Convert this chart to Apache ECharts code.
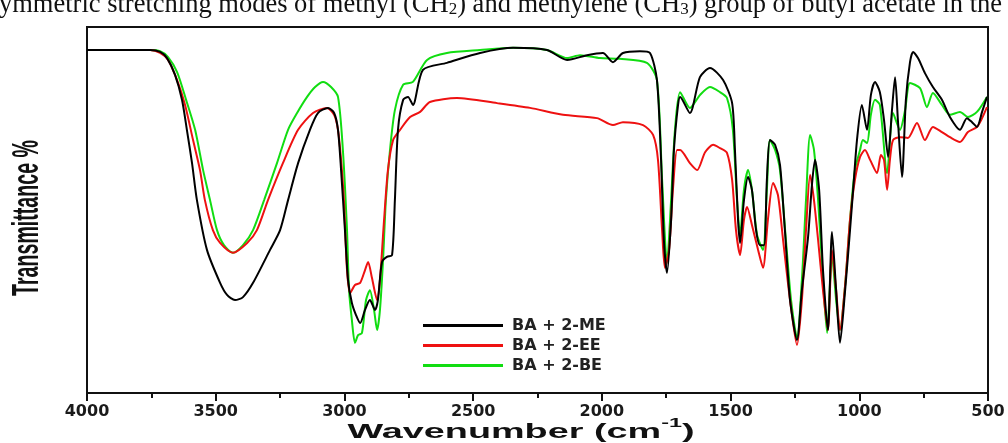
<!DOCTYPE html>
<html>
<head>
<meta charset="utf-8">
<script src="https://cdn.jsdelivr.net/npm/echarts@6/dist/echarts.min.js"></script>
<style>html,body{margin:0;padding:0;background:#fff;}#chart{width:1008px;height:443px;}</style>
</head>
<body>
<div id="chart"></div>
<script>
// Wavenumber (cm^-1) and transmittance (%)
const meWn = [4000,3755,3716,3689,3658,3631,3612,3592,3573,3534,3483,3456,3425,3394,3355,3289,3250,3219,3180,3134,3103,3064,3040,3025,3013,2998,2986,2971,2955,2939,2920,2901,2881,2870,2854,2835,2815,2804,2792,2772,2753,2734,2695,2602,2473,2345,2213,2135,2058,1996,1957,1918,1852,1813,1786,1770,1759,1747,1731,1720,1704,1696,1658,1619,1580,1529,1494,1483,1471,1463,1448,1432,1417,1401,1386,1370,1359,1347,1327,1308,1289,1269,1242,1223,1199,1184,1172,1156,1141,1122,1106,1090,1075,1055,1036,1021,1009,990,970,955,939,920,904,888,873,861,850,834,819,803,791,772,745,714,679,648,609,582,562,543,523,504];
const meT  = [93.7,93.7,93.2,91.5,86.9,80.1,71.9,62.8,52.7,39.1,30.1,26.8,25.4,26.2,30.1,39.1,44.5,52.7,62.8,71.9,76.5,77.9,76.5,71.9,60.9,44.5,30.9,24.6,21.3,19.1,22.7,25.4,22.7,25.4,35.8,37.2,37.7,52.7,71.9,80.1,80.9,78.7,88.3,90.2,92.9,94.3,93.7,91.0,92.3,92.9,90.4,92.9,93.4,92.9,85.5,63.7,41.8,32.8,47.3,66.4,78.7,80.9,76.5,86.3,88.8,85.5,79.2,66.4,47.3,41.0,52.7,59.0,55.5,44.5,40.4,40.4,58.2,69.1,67.8,62.3,44.5,25.4,14.5,28.1,42.6,56.8,63.7,55.5,33.6,17.2,44.0,28.1,13.7,28.1,44.5,58.2,69.1,78.7,71.9,81.4,85.0,82.2,74.6,64.5,77.3,86.3,74.6,59.0,80.1,90.4,93.2,91.5,87.4,83.6,80.1,75.4,71.9,75.1,74.0,72.7,76.8,80.9];

const eeWn = [4000,3755,3716,3685,3650,3619,3588,3561,3542,3511,3483,3433,3378,3340,3297,3239,3180,3122,3068,3040,3025,3013,3002,2990,2978,2959,2939,2920,2908,2893,2873,2862,2846,2831,2811,2784,2745,2706,2668,2563,2407,2279,2151,2019,1957,1918,1840,1801,1782,1766,1755,1739,1724,1708,1696,1658,1630,1599,1568,1541,1514,1494,1479,1463,1448,1436,1417,1393,1374,1355,1335,1316,1296,1269,1242,1223,1207,1191,1176,1160,1141,1122,1106,1090,1075,1055,1036,1017,997,978,958,931,916,904,892,881,869,842,811,776,745,714,679,648,609,578,543,523,504];
const eeT  = [93.7,93.7,92.9,91.0,85.5,78.7,69.1,60.9,52.7,44.5,41.0,38.3,41.0,44.5,52.7,62.8,71.9,76.5,77.9,76.0,71.9,63.7,52.7,33.6,27.3,29.5,30.1,33.6,35.8,31.4,25.4,30.9,47.3,60.9,69.1,71.9,75.4,76.8,79.5,80.6,79.2,77.9,76.0,75.1,73.2,74.0,73.2,70.5,63.7,44.5,34.2,39.1,55.5,66.4,66.4,62.8,60.9,65.8,67.8,66.9,65.6,58.2,44.5,37.7,47.3,50.8,45.9,39.1,34.2,47.3,57.4,54.1,41.8,25.4,13.1,25.4,44.5,59.6,52.7,41.8,28.1,17.2,39.1,28.1,17.2,29.5,47.3,58.2,64.5,66.4,63.7,60.1,65.0,63.7,55.5,63.7,69.1,69.9,69.7,73.8,69.1,72.7,71.3,69.9,68.6,71.3,72.7,75.1,78.1];

const beWn = [4000,3755,3716,3685,3650,3615,3580,3549,3522,3495,3468,3433,3394,3355,3312,3262,3219,3184,3145,3114,3083,3052,3025,3006,2990,2982,2971,2959,2947,2932,2916,2901,2885,2873,2862,2850,2839,2823,2804,2772,2734,2679,2602,2473,2345,2213,2135,2085,2007,1930,1825,1786,1766,1747,1731,1716,1696,1658,1619,1580,1541,1514,1491,1475,1463,1448,1432,1417,1397,1374,1359,1347,1327,1308,1285,1265,1242,1223,1207,1191,1176,1160,1141,1125,1106,1090,1075,1055,1036,1017,997,986,970,955,939,920,892,869,842,822,803,764,737,714,679,648,609,578,543,504];
const beT  = [93.7,93.7,93.4,91.8,87.7,80.1,71.9,60.9,52.7,44.5,40.4,38.3,40.4,44.5,52.7,62.8,71.9,76.5,80.9,83.6,85.0,83.6,80.9,66.4,44.5,28.1,19.9,13.7,15.8,16.4,25.4,28.1,22.7,17.2,22.7,36.3,52.7,66.4,77.3,84.2,85.0,91.0,92.9,93.7,94.3,93.7,91.5,92.3,91.5,91.3,90.2,85.5,58.2,35.5,52.7,71.9,82.2,77.9,81.4,83.6,82.2,80.6,71.9,52.7,43.2,55.5,60.9,55.5,43.2,39.1,55.5,69.1,66.4,60.9,41.8,25.4,15.0,30.9,52.7,70.5,66.4,52.7,30.9,16.4,37.7,25.4,17.2,29.5,47.3,60.9,66.4,69.1,68.3,76.0,80.1,78.7,60.1,76.5,71.9,77.3,84.7,83.3,78.1,82.0,78.7,76.0,76.8,75.4,76.8,80.9];

const seriesNames = ['BA + 2-ME', 'BA + 2-EE', 'BA + 2-BE'];
const seriesColors = ['#000000', '#ee1111', '#11dd11'];
const xTicks = [4000, 3500, 3000, 2500, 2000, 1500, 1000, 500];

const zip = (xs, ys) => xs.map((x, i) => [x, ys[i]]);
const datasets = [zip(meWn, meT), zip(eeWn, eeT), zip(beWn, beT)];

const chart = echarts.init(document.getElementById('chart'), null, {renderer: 'canvas'});
chart.setOption({
  animation: false,
  backgroundColor: '#fff',
  grid: {left: 87, right: 20, top: 27, bottom: 50, show: true, borderColor: '#111', borderWidth: 2, backgroundColor: 'transparent'},
  legend: {
    orient: 'vertical', left: 418, top: 312,
    icon: 'rect', itemWidth: 80, itemHeight: 3, itemGap: 3,
    data: seriesNames,
    textStyle: {fontFamily: 'DejaVu Sans', fontWeight: 'bold', fontSize: 16, color: '#222', lineHeight: 17, padding: [0,0,0,4]}
  },
  xAxis: {
    type: 'value', inverse: true, min: 500, max: 4000, interval: 500,
    axisLine: {show: true, lineStyle: {color: '#111', width: 2}},
    axisTick: {show: true, inside: false, length: 8, lineStyle: {color: '#111', width: 2}},
    minorTick: {show: true, splitNumber: 2, length: 5, lineStyle: {color: '#111', width: 2}},
    splitLine: {show: false},
    axisLabel: {
      margin: 11, color: '#1a1a1a', fontFamily: 'DejaVu Sans', fontWeight: 'bold', fontSize: 16,
      formatter: v => (xTicks.indexOf(v) >= 0 ? String(v) : '')
    }
  },
  yAxis: {
    type: 'value', min: 0, max: 100,
    axisLine: {show: true, lineStyle: {color: '#111', width: 2}},
    axisTick: {show: false}, axisLabel: {show: false}, splitLine: {show: false}
  },
  series: datasets.map((d, i) => ({
    name: seriesNames[i], type: 'line', data: d, showSymbol: false, smooth: 0.25,
    z: 3 - i,
    lineStyle: {color: seriesColors[i], width: 2},
    itemStyle: {color: seriesColors[i]}
  })),
  graphic: [
    {
      type: 'text', x: -1, y: 5.5,
      style: {
        text: '{n|ymmetric stretching modes of methyl (CH}{s|2}{n|) and methylene (CH}{s|3}{n|) group of butyl acetate in the}',
        align: 'left', verticalAlign: 'middle',
        rich: {
          n: {fontFamily: 'Liberation Serif', fontSize: 26.5, lineHeight: 26, fill: '#111'},
          s: {fontFamily: 'Liberation Serif', fontSize: 17, lineHeight: 12, verticalAlign: 'bottom', fill: '#111'}
        }
      }
    },
    {
      type: 'text', x: 521, y: 432, scaleX: 1.8,
      style: {
        text: '{n|Wavenumber (cm}{p|-1}{n|)}',
        align: 'center', verticalAlign: 'middle',
        rich: {
          n: {fontFamily: 'Liberation Sans', fontWeight: 'bold', fontSize: 21, lineHeight: 22, fill: '#111'},
          p: {fontFamily: 'Liberation Sans', fontWeight: 'bold', fontSize: 13, lineHeight: 30, verticalAlign: 'top', fill: '#111'}
        }
      }
    },
    {
      type: 'text', x: 28, y: 218, rotation: Math.PI / 2, scaleX: 0.545,
      style: {
        text: 'Transmittance %', align: 'center', verticalAlign: 'middle',
        fontFamily: 'Liberation Sans', fontWeight: 'bold', fontSize: 36, fill: '#111'
      }
    }
  ]
});
</script>
</body>
</html>
